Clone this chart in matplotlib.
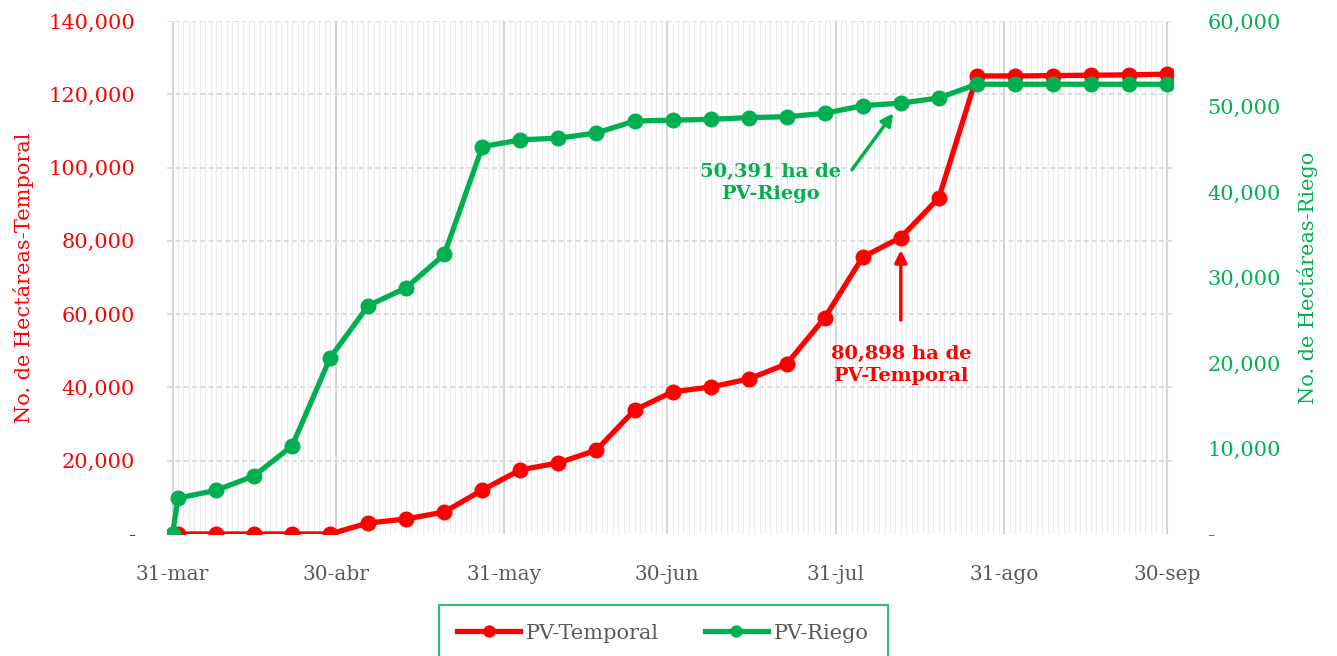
import matplotlib
matplotlib.use("Agg")
import matplotlib.pyplot as plt
from datetime import date, timedelta

# weekly observation dates (plus the first day)
dates = [date(2023, 3, 31), date(2023, 4, 1)] + [date(2023, 4, 8) + timedelta(weeks=i) for i in range(26)]

temporal = [0, 0, 0, 0, 0, 0, 3000, 4100, 6000, 12000, 17500, 19400, 22900, 33800,
            38800, 40100, 42300, 46400, 59000, 75600, 80898, 91700, 125000, 125000,
            125100, 125200, 125300, 125500]
riego = [0, 4200, 5100, 6800, 10300, 20600, 26700, 28800, 32700, 45300, 46100, 46300,
         46900, 48300, 48400, 48500, 48700, 48800, 49200, 50100, 50391, 51000, 52600,
         52600, 52600, 52600, 52600, 52600]

tick_dates = [date(2023, 3, 31), date(2023, 4, 30), date(2023, 5, 31), date(2023, 6, 30),
              date(2023, 7, 31), date(2023, 8, 31), date(2023, 9, 30)]
tick_labels = ["31-mar", "30-abr", "31-may", "30-jun", "31-jul", "31-ago", "30-sep"]

RED = "#FF0000"
GREEN = "#00B050"
GRAY = "#595959"
plt.rcParams['font.family'] = ['DejaVu Serif']

fig = plt.figure(figsize=(13.37, 6.56), dpi=100)
ax = fig.add_axes([0.125, 0.186, 0.752, 0.782])
ax2 = ax.twinx()

# daily minor grid and monthly major grid
day0 = date(2023, 3, 31)
for i in range(185):
    ax.axvline(day0 + timedelta(days=i), color="#ECECEC", lw=0.8, zorder=0)
for d in tick_dates:
    ax.axvline(d, color="#D0D0D0", lw=1.2, zorder=0)
for v in range(20000, 140001, 20000):
    ax.axhline(v, color="#D9D9D9", lw=1.2, ls=(0, (3, 2)), zorder=0)

lt, = ax.plot(dates, temporal, color=RED, lw=3.8, marker="o", ms=10.5, zorder=3, label="PV-Temporal")
lr, = ax2.plot(dates, riego, color=GREEN, lw=3.8, marker="o", ms=10.5, zorder=3, label="PV-Riego")

ax.set_xlim(date(2023, 3, 30) + timedelta(hours=19), date(2023, 10, 1))
ax.set_ylim(0, 140000)
ax2.set_ylim(0, 60000)
ax.set_xticks(tick_dates)
ax.set_xticklabels(tick_labels, color=GRAY, fontsize=14.5)

def fmt(v, p):
    return "-" if v == 0 else f"{int(v):,}"

ax.set_yticks(range(0, 140001, 20000))
ax.yaxis.set_major_formatter(plt.FuncFormatter(fmt))
ax2.set_yticks(range(0, 60001, 10000))
ax2.yaxis.set_major_formatter(plt.FuncFormatter(fmt))
ax.tick_params(axis="y", colors=RED, labelsize=15, length=0, pad=23)
ax2.tick_params(axis="y", colors=GREEN, labelsize=15, length=0, pad=25)
ax.tick_params(axis="x", length=0, pad=22)
for a in (ax, ax2):
    for s in a.spines.values():
        s.set_visible(False)

ax.set_ylabel("No. de Hectáreas-Temporal", color=RED, fontsize=15, labelpad=10)
ax2.set_ylabel("No. de Hectáreas-Riego", color=GREEN, fontsize=15, labelpad=12)

# annotations
ax2.annotate("", xy=(dates[20], riego[20]), xytext=(date(2023, 8, 3) + timedelta(hours=12), 42600),
             arrowprops=dict(arrowstyle="-|>", color=GREEN, lw=2.5, shrinkA=0, shrinkB=9, mutation_scale=18))
ax2.text(date(2023, 7, 19), 41050, "50,391 ha de\nPV-Riego", color=GREEN, fontsize=14,
         fontweight="bold", ha="center", va="center", linespacing=1.25)
ax.annotate("", xy=(dates[20], temporal[20]), xytext=(dates[20], 58400),
            arrowprops=dict(arrowstyle="-|>", color=RED, lw=2.5, shrinkA=0, shrinkB=9, mutation_scale=18))
ax.text(dates[20], 46100, "80,898 ha de\nPV-Temporal", color=RED, fontsize=14,
        fontweight="bold", ha="center", va="center", linespacing=1.25)

leg = fig.legend(handles=[lt, lr], loc="upper center", bbox_to_anchor=(0.496, 0.078), ncol=2,
                 fontsize=15, frameon=True, fancybox=False, borderpad=0.9, handlelength=3,
                 columnspacing=2.2, handletextpad=0.3, borderaxespad=0, markerscale=0.75)
leg.get_frame().set_edgecolor(GREEN)
leg.get_frame().set_linewidth(1.5)
for t in leg.get_texts():
    t.set_color(GRAY)

fig.savefig("out.png", dpi=100)
